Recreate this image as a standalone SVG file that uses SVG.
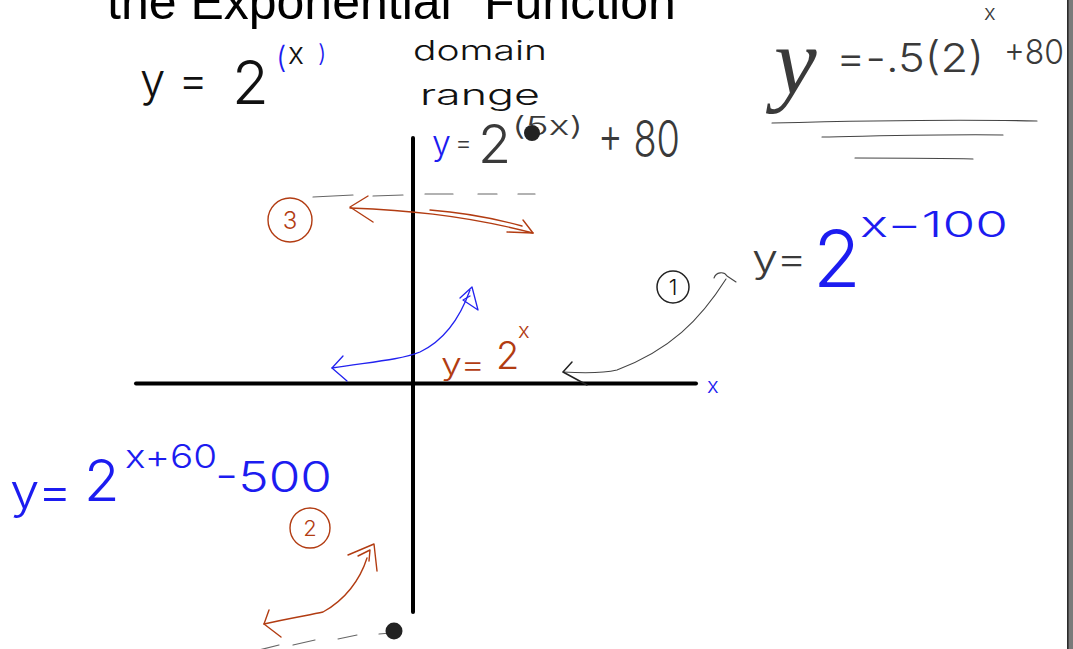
<svg xmlns="http://www.w3.org/2000/svg" width="1073" height="649" viewBox="0 0 1073 649">
<style>
.hw{font-family:Inter,"Open Sans","Liberation Sans",sans-serif;font-weight:300}
.blk{fill:#111}
.gry{fill:#3a3a3a}
.blu{fill:#1c1cf0}
.red{fill:#b23c12}
.ln{fill:none;stroke-linecap:round;stroke-linejoin:round}
.axis{stroke:#000;stroke-width:4}
.sb{stroke:#2222f0;stroke-width:1.3}
.sr{stroke:#b23c12;stroke-width:1.4}
.sg{stroke:#444;stroke-width:1.1}
.sk{stroke:#222;stroke-width:1.5}
.dash{stroke:#666;stroke-width:1.2}
</style>
<rect width="1073" height="649" fill="#fff"/>
<g id="border">
<rect x="1068" y="0" width="5" height="649" fill="#7a7a7a"/>
<line x1="1067.8" y1="0" x2="1067.8" y2="649" stroke="#222" stroke-width="1.5"/>
</g>
<g id="title">
<text x="107" y="19" font-family="'Liberation Sans',Arial,sans-serif" font-size="50" fill="#000">the Exponential<tspan x="484">Function</tspan></text>
</g>
<g id="connectors">
<line class="ln axis" x1="413" y1="138" x2="413" y2="612"/>
<line class="ln axis" x1="136" y1="383.5" x2="696" y2="383.5"/>
<path class="ln dash" d="M313,197 L353,195 M373,196 L403,195 M425,194 L453,194 M478,194 L497,194 M518,194 L535,194"/>
<path class="ln dash" d="M259,650 L279,645 M293,645 L315,640 M338,639 L357,635 M379,634 L391,633"/>
<path class="ln sr" d="M350,208 C400,210 460,214 533,233 M430,210 C470,213 500,220 522,226"/>
<path class="ln sr" d="M368,196 L350,207 L373,222 M523,220 L533,233 L507,232"/>
<path class="ln sb" d="M332,368 C370,362 400,360 420,352 C445,340 460,318 470,290"/>
<path class="ln sb" d="M343,356 L332,368 L347,381 M460,298 L472,287 L478,310 L463,300 L470,296"/>
<path class="ln sg" d="M726,279 C700,320 670,350 617,370 C600,374 580,373 563,372"/>
<path class="ln sk" d="M572,362 L563,372 L587,385"/>
<path class="ln sg" d="M714,278 C716,272 724,271 727,276 L736,282"/>
<path class="ln sr" d="M264,624 C290,618 310,615 323,612 C345,600 360,580 367,558"/>
<path class="ln sr" d="M269,610 L264,624 L281,637 M348,555 L374,544 L377,571 M358,556 L370,550 L369,561"/>
<path class="ln sg" d="M772,123 C850,121 950,119 1037,121 M822,137 C880,136 950,134 1003,135 M855,158 C900,158 940,158 973,159"/>
</g>
<g id="eq-main">
<text class="hw blk" x="140" y="96" font-size="46" textLength="68" lengthAdjust="spacingAndGlyphs">y =</text>
<text class="hw blk" x="232" y="104" font-size="60">2</text>
<text class="hw blu" x="276" y="68" font-size="30">(</text>
<text class="hw blk" x="288" y="64" font-size="30">x</text>
<text class="hw blu" x="318" y="62" font-size="24">)</text>
</g>
<g id="domain-range">
<text class="hw blk" x="413" y="60" font-size="27" textLength="134" lengthAdjust="spacingAndGlyphs">domain</text>
<text class="hw blk" x="420" y="105" font-size="29" textLength="120" lengthAdjust="spacingAndGlyphs">range</text>
</g>
<g id="eq-topright">
<text x="774" y="94" font-family="'Liberation Serif',serif" font-style="italic" font-size="96" class="gry">y</text>
<text class="hw gry" x="836" y="72" font-size="40" textLength="148" lengthAdjust="spacingAndGlyphs">=-.5(2)</text>
<text class="hw gry" x="984" y="20" font-size="22">x</text>
<text class="hw gry" x="1004" y="64" font-size="34" textLength="60" lengthAdjust="spacingAndGlyphs">+80</text>
</g>
<g id="eq-5x">
<text class="hw blu" x="432" y="155" font-size="34">y</text>
<text class="hw gry" x="455" y="152" font-size="26">=</text>
<text class="hw gry" x="478" y="163" font-size="54">2</text>
<text class="hw gry" x="512" y="135" font-size="26" textLength="71" lengthAdjust="spacingAndGlyphs">(5x)</text>
<text class="hw gry" x="598" y="157" font-size="50" textLength="82" lengthAdjust="spacingAndGlyphs">+ 80</text>
<circle cx="532" cy="133" r="8" fill="#222"/>
</g>
<g id="circle-3">
<circle cx="290" cy="220" r="22" class="ln sr"/>
<text class="hw red" x="290" y="229" font-size="24" text-anchor="middle">3</text>
</g>
<g id="eq-2x">
<text class="hw red" x="441" y="375" font-size="30" textLength="44" lengthAdjust="spacingAndGlyphs">y=</text>
<text class="hw red" x="496" y="369" font-size="38">2</text>
<text class="hw red" x="518" y="338" font-size="22">x</text>
</g>
<g id="x-label">
<text class="hw blu" x="707" y="393" font-size="22">x</text>
</g>
<g id="circle-1">
<circle cx="673" cy="287" r="16" class="ln sk"/>
<text class="hw blk" x="673" y="295" font-size="22" text-anchor="middle">1</text>
</g>
<g id="eq-x-100">
<text class="hw gry" x="752" y="272" font-size="38" textLength="55" lengthAdjust="spacingAndGlyphs">y=</text>
<text class="hw blu" x="813" y="287" font-size="78">2</text>
<text class="hw blu" x="860" y="237" font-size="36" textLength="148" lengthAdjust="spacingAndGlyphs">x−100</text>
</g>
<g id="eq-x+60">
<text class="hw blu" x="10" y="508" font-size="48" textLength="62" lengthAdjust="spacingAndGlyphs">y=</text>
<text class="hw blu" x="84" y="501" font-size="58">2</text>
<text class="hw blu" x="125" y="468" font-size="32" textLength="92" lengthAdjust="spacingAndGlyphs">x+60</text>
<text class="hw blu" x="215" y="492" font-size="42" textLength="117" lengthAdjust="spacingAndGlyphs">-500</text>
</g>
<g id="circle-2">
<circle cx="310" cy="528" r="20" class="ln sr"/>
<text class="hw red" x="310" y="536" font-size="22" text-anchor="middle">2</text>
</g>
<g id="dot-bottom">
<circle cx="394" cy="631" r="8.5" fill="#222"/>
</g>
</svg>
